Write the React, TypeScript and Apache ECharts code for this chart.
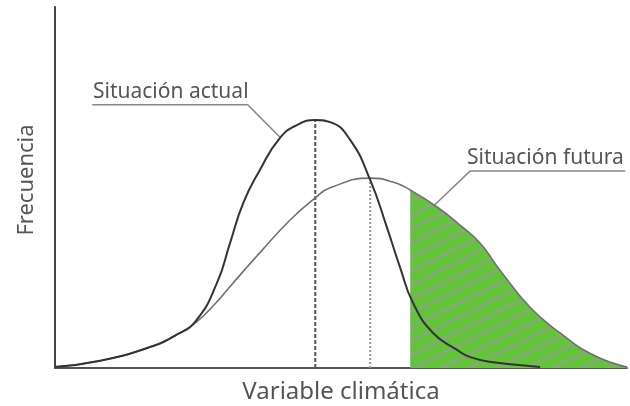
import React, { useEffect, useRef } from "react";
import * as echarts from "echarts";

// Curve samples (x: 0..100 along the axis, y: 0..100 frequency)
const actualX = [0, 7.9, 16.6, 21.0, 24.6, 28.3, 30.6, 32.9, 35.8, 39.3, 42.3, 45.5, 48.1, 51.6, 55.1, 58.0, 60.3, 62.6, 66.1, 70.3, 72.6, 76.6, 84.8];
const actualY = [0.3, 2.0, 5.8, 9.0, 13.0, 23.5, 34.6, 45.7, 54.8, 63.7, 67.3, 68.7, 68.1, 63.2, 52.1, 39.1, 28.0, 18.0, 9.7, 5.0, 3.0, 1.6, 0.3];

const futureX = [0, 7.9, 16.6, 21.0, 24.6, 28.0, 31.1, 35.8, 41.1, 45.5, 48.1, 55.1, 59.1, 62.1, 66.8, 70.8, 74.3, 77.8, 83.0, 88.3, 94.1, 100];
const futureY = [0.3, 2.0, 5.8, 9.0, 12.6, 17.8, 23.5, 31.9, 41.0, 47.1, 49.9, 52.6, 51.5, 49.3, 44.6, 39.6, 34.6, 27.1, 16.9, 9.7, 3.6, 0.3];

const shadeFrom = 62.1;

const actualPeak = [45.5, 68.7];
const futurePeak = [55.1, 52.4];

const actualLeader = [[6.5, 72.9], [33.7, 72.9], [39.3, 64.0]];
const futureLeader = [[99.7, 54.6], [72.6, 54.6], [66.4, 45.2]];

const labels = {
  actual: "Situación actual",
  future: "Situación futura",
  xName: "Variable climática",
  yName: "Frecuencia",
};

function zip(xs: number[], ys: number[]) {
  return xs.map((x, i) => [x, ys[i]]);
}

function makeHatch() {
  const w = 28;
  const h = 14;
  const c = document.createElement("canvas");
  c.width = w;
  c.height = h;
  const ctx = c.getContext("2d")!;
  ctx.fillStyle = "#63c33a";
  ctx.fillRect(0, 0, w, h);
  ctx.strokeStyle = "#9a9a9a";
  ctx.lineWidth = 1.8;
  for (let k = -1; k <= 1; k++) {
    ctx.beginPath();
    ctx.moveTo(0, h + k * h);
    ctx.lineTo(w, k * h);
    ctx.stroke();
  }
  return c;
}

export default function App() {
  const ref = useRef<HTMLDivElement>(null);
  useEffect(() => {
    if (!ref.current) return;
    const chart = echarts.init(ref.current, null, { renderer: "svg" });
    const hatch = makeHatch();
    const actual = zip(actualX, actualY);
    const future = zip(futureX, futureY);
    const shade = future.filter((p) => p[0] >= shadeFrom);
    const font = "'Noto Sans', sans-serif";
    chart.setOption({
      animation: false,
      grid: { left: 55, right: 3, top: 7, bottom: 38 },
      xAxis: {
        type: "value",
        min: 0,
        max: 100,
        axisLine: { show: true, onZero: false, lineStyle: { color: "#555", width: 2 } },
        axisTick: { show: false },
        axisLabel: { show: false },
        splitLine: { show: false },
      },
      yAxis: {
        type: "value",
        min: 0,
        max: 100,
        axisLine: { show: true, onZero: false, lineStyle: { color: "#444", width: 2 } },
        axisTick: { show: false },
        axisLabel: { show: false },
        splitLine: { show: false },
      },
      series: [
        {
          type: "line",
          data: shade,
          smooth: 0.5,
          symbol: "none",
          lineStyle: { width: 0 },
          areaStyle: {
            opacity: 1,
            color: { image: hatch, repeat: "repeat", imageWidth: 28, imageHeight: 14 },
          },
          z: 1,
        },
        {
          type: "line",
          data: [[actualPeak[0], 0], actualPeak],
          symbol: "none",
          lineStyle: { color: "#555", width: 2, type: [4, 2] },
          z: 2,
        },
        {
          type: "line",
          data: [[futurePeak[0], 0], futurePeak],
          symbol: "none",
          lineStyle: { color: "#999", width: 2, type: [2, 2] },
          z: 2,
        },
        {
          type: "line",
          data: future,
          smooth: 0.5,
          symbol: "none",
          lineStyle: { color: "#707070", width: 1.6 },
          z: 3,
        },
        {
          type: "line",
          data: actual,
          smooth: 0.5,
          symbol: "none",
          lineStyle: { color: "#333", width: 2 },
          z: 4,
        },
        {
          type: "line",
          data: actualLeader,
          symbol: "none",
          lineStyle: { color: "#888", width: 1.5 },
          z: 3,
        },
        {
          type: "line",
          data: futureLeader,
          symbol: "none",
          lineStyle: { color: "#888", width: 1.5 },
          z: 3,
        },
      ],
      graphic: [
        {
          type: "text",
          x: 93,
          y: 90,
          style: { text: labels.actual, fill: "#555", font: `21px ${font}`, verticalAlign: "middle" },
        },
        {
          type: "text",
          x: 467,
          y: 156,
          style: { text: labels.future, fill: "#555", font: `21px ${font}`, verticalAlign: "middle" },
        },
        {
          type: "text",
          x: 341,
          y: 389,
          style: { text: labels.xName, fill: "#555", font: `24px ${font}`, align: "center", verticalAlign: "middle" },
        },
        {
          type: "text",
          x: 24,
          y: 180,
          rotation: Math.PI / 2,
          style: { text: labels.yName, fill: "#555", font: `22px ${font}`, align: "center", verticalAlign: "middle" },
        },
      ],
    });
    return () => chart.dispose();
  }, []);
  return <div ref={ref} style={{ position: "fixed", left: 0, top: 0, width: 630, height: 406 }} />;
}
